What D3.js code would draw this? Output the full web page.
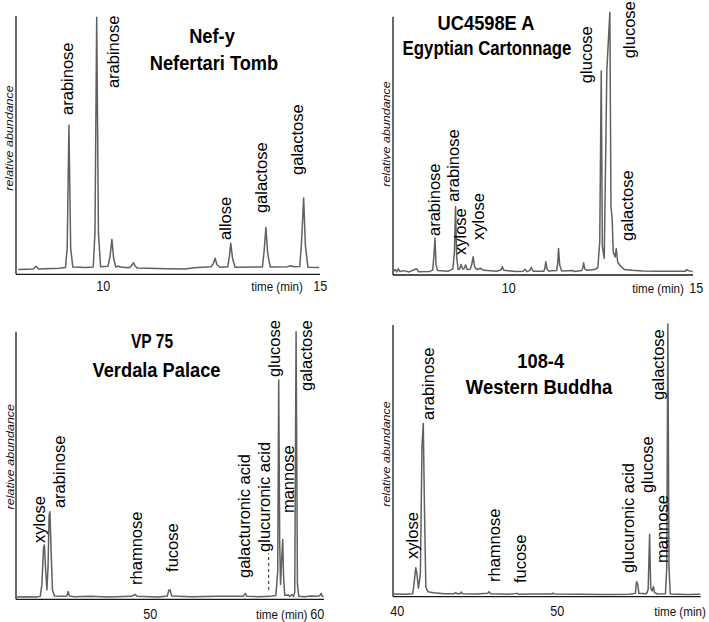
<!DOCTYPE html>
<html>
<head>
<meta charset="utf-8">
<script src="https://cdn.jsdelivr.net/npm/d3@7/dist/d3.min.js"></script>
<style>
  html, body { margin: 0; padding: 0; background: #fff; }
  svg { display: block; }
  text { font-family: Arial, "Liberation Sans", sans-serif; }
</style>
</head>
<body>
<svg id="chart" width="709" height="622"></svg>
<script>
// ---------------- DATA ----------------
// Chromatogram traces: [time (min), relative abundance (%)]
const nefTrace = [
  [8.05,-0.5],[8.4,-0.3],[8.46,0.8],[8.52,-0.3],[9.0,0],[9.14,0.3],[9.18,8],[9.22,57],[9.26,8],[9.31,0.5],
  [9.6,0.3],[9.78,0.5],[9.82,14],[9.86,100],[9.9,14],[9.95,0.6],[10.12,0.8],[10.17,5],[10.21,11.5],[10.25,4],
  [10.3,0.5],[10.36,0.9],[10.4,0.5],[10.6,0.2],[10.66,1.0],[10.71,2.2],[10.75,0.8],[10.8,0.1],[11.5,-0.2],
  [11.9,-0.3],[12.1,0.2],[12.5,0.6],[12.55,2],[12.59,4],[12.63,1.5],[12.7,0.4],[12.88,0.6],[12.92,5],[12.95,10],
  [12.99,4],[13.05,0.4],[13.68,0.5],[13.72,7],[13.76,16.3],[13.8,6],[13.86,0.5],[14.25,0.6],[14.34,1.0],
  [14.4,0.6],[14.54,0.7],[14.58,10],[14.63,28],[14.67,9],[14.73,0.4],[14.99,0.3]
];
const ucTrace = [
  [6.93,0.5],[6.98,1.2],[7.02,0.3],[7.06,1.5],[7.1,0.5],[7.2,0.8],[7.35,0.3],[7.55,1.5],[7.6,0.4],[7.9,0.5],
  [7.98,1.0],[8.01,6],[8.04,13.2],[8.07,3],[8.11,0.8],[8.4,0.6],[8.52,1.5],[8.56,8],[8.59,25.4],[8.62,6],
  [8.66,1.2],[8.7,1.5],[8.74,3.2],[8.78,1.4],[8.82,1.6],[8.86,3],[8.9,1.2],[8.98,1.3],[9.02,3],[9.06,6.1],
  [9.1,2.2],[9.16,1.2],[9.26,1.7],[9.34,0.9],[9.7,0.6],[9.8,1.0],[9.84,2.3],[9.88,0.9],[10.2,0.5],[10.4,0.6],
  [10.44,1.3],[10.5,0.4],[10.57,0.8],[10.61,2],[10.66,0.6],[10.95,0.6],[10.98,2],[11.0,4.2],[11.03,1.5],
  [11.07,0.7],[11.29,0.8],[11.32,4],[11.34,9.3],[11.37,3],[11.42,0.7],[11.73,0.8],[11.76,0.5],[11.96,0.8],
  [11.99,2],[12.01,3.8],[12.04,1.5],[12.1,0.9],[12.3,1.2],[12.39,2],[12.44,12],[12.48,77.5],[12.51,10],
  [12.56,5.5],[12.63,78],[12.71,100],[12.74,25],[12.77,21.3],[12.8,8],[12.85,6],[12.88,9.3],[12.92,4],
  [13.0,2.5],[13.1,1.2],[13.3,0.9],[13.6,0.7],[14.0,0.6],[14.6,0.6],[14.73,0.6],[14.77,1.2],[14.82,0.7],[14.92,0.5]
];
const vpTrace = [
  [42.05,0.3],[42.6,0.4],[43.2,0.3],[43.45,0.5],[43.55,5],[43.65,19],[43.7,19.8],[43.76,12],[43.85,2.9],
  [43.92,12],[43.98,31],[44.03,32.3],[44.09,20],[44.18,3],[44.3,0.6],[44.8,0.5],[45.04,0.6],[45.12,2.3],
  [45.2,0.6],[45.5,0.4],[46.5,0.5],[47.5,0.3],[48.9,0.5],[49.06,1.0],[49.14,1.2],[49.24,0.5],[50.5,0.3],
  [51.05,0.6],[51.15,2.9],[51.22,2.9],[51.32,0.6],[52.5,0.4],[54,0.5],[55.6,0.5],[55.72,1.6],[55.82,0.5],
  [56.5,0.4],[57.2,0.5],[57.55,0.8],[57.66,10],[57.72,81.8],[57.78,20],[57.83,5],[57.9,15],[57.96,21.9],
  [58.01,8],[58.08,0.9],[58.3,1.0],[58.38,0.5],[58.52,1.2],[58.6,0.5],[58.68,2],[58.76,100],[58.84,5],
  [58.92,0.5],[59.3,0.4],[59.6,0.6],[60.0,0.5],[60.18,0.8],[60.26,1.6],[60.32,0.6],[60.4,0.3]
];
const budTrace = [
  [39.82,0.4],[40.5,0.3],[41.0,0.5],[41.08,4],[41.19,10.1],[41.26,8],[41.36,2.5],[41.48,8],[41.58,55],
  [41.66,63.3],[41.74,30],[41.82,3],[41.95,1.2],[42.3,0.8],[43.0,0.5],[43.6,0.5],[43.68,0.9],[43.76,0.5],
  [43.97,0.5],[44.03,1.1],[44.1,0.5],[45.0,0.4],[45.68,0.6],[45.76,1.2],[45.86,0.5],[47.0,0.3],[47.52,0.6],
  [47.6,0.3],[48.5,0.4],[49.7,0.4],[49.76,0.7],[49.85,0.4],[51.5,0.3],[53,0.2],[54.5,0.3],[54.9,0.6],
  [54.97,4.9],[55.05,4],[55.12,0.6],[55.6,0.5],[55.7,2],[55.79,22.4],[55.86,2.5],[55.95,1.5],[56.03,3.1],
  [56.1,0.8],[56.3,0.4],[56.78,0.5],[56.86,10],[56.93,100],[57.0,10],[57.08,0.4],[57.5,0.3],[58.2,0.2],[58.95,0.3]
];

// Peak labels: text, time of label baseline, abundance where label starts
const nefLabels = [
  {text:"arabinose", t:9.31, v:61.1}, {text:"arabinose", t:10.38, v:71.8},
  {text:"allose", t:12.96, v:11.3}, {text:"galactose", t:13.78, v:22},
  {text:"galactose", t:14.62, v:37.2}
];
const ucLabels = [
  {text:"arabinose", t:8.17, v:14.1}, {text:"arabinose", t:8.68, v:27.2},
  {text:"xylose", t:8.87, v:6.8}, {text:"xylose", t:9.34, v:12.6},
  {text:"glucose", t:12.22, v:72.8}, {text:"glucose", t:13.38, v:82.4},
  {text:"galactose", t:13.32, v:12.2}
];
const vpLabels = [
  {text:"xylose", t:43.75, v:20.6}, {text:"arabinose", t:44.93, v:33.7},
  {text:"rhamnose", t:49.52, v:4.8}, {text:"fucose", t:51.71, v:9.7},
  {text:"galacturonic acid", t:56.02, v:7.4}, {text:"glucuronic acid", t:57.22, v:17.2},
  {text:"glucose", t:57.82, v:83}, {text:"mannose", t:58.64, v:31.8},
  {text:"galactose", t:59.71, v:77.7}
];
const budLabels = [
  {text:"xylose", t:41.31, v:13.3}, {text:"arabinose", t:42.33, v:64.6},
  {text:"rhamnose", t:46.45, v:4.8}, {text:"fucose", t:48.05, v:4.4},
  {text:"glucuronic acid", t:54.83, v:8.1}, {text:"glucose", t:55.98, v:37.6},
  {text:"mannose", t:56.94, v:11.8}, {text:"galactose", t:56.71, v:72}
];
// dashed marker for glucuronic acid (VP 75): time, from, to abundance
const vpMarker = [{t:57.12, v0:2.9, v1:16.8}];

const nefTitle = ["Nef-y", "Nefertari Tomb"];
const ucTitle = ["UC4598E A", "Egyptian Cartonnage"];
const vpTitle = ["VP 75", "Verdala Palace"];
const budTitle = ["108-4", "Western Buddha"];

const nefTicks = [10, 15];
const ucTicks = [10, 15];
const vpTicks = [50, 60];
const budTicks = [40, 50];

const nefDomain = [8, 15];
const ucDomain = [6.92, 14.93];
const vpDomain = [42, 60.43];
const budDomain = [39.77, 58.98];

// ---------------- LAYOUT ----------------
const panels = [
  { trace:nefTrace, labels:nefLabels, title:nefTitle, ticks:nefTicks, domain:nefDomain, markers:[],
    xr:[16,319.7], axisX1:320, axisY:274.3, base:268.3, top:17.3, yTop:16,
    titleX:[212,214], titleY:[43,70], titleScale:[0.87,0.87],
    yLabX:13.3, yLabY:138, timeX:277, tickBase:291 },
  { trace:ucTrace, labels:ucLabels, title:ucTitle, ticks:ucTicks, domain:ucDomain, markers:[],
    xr:[393,693], axisX1:693, axisY:275, base:272.7, top:12.3, yTop:16.7,
    titleX:[486,487], titleY:[30,55], titleScale:[0.87,0.8],
    yLabX:390, yLabY:134, timeX:658, tickBase:293 },
  { trace:vpTrace, labels:vpLabels, title:vpTitle, ticks:vpTicks, domain:vpDomain, markers:vpMarker,
    xr:[16,324], axisX1:324, axisY:599.3, base:597.7, top:331.7, yTop:331.7,
    titleX:[152,156.5], titleY:[348,377], titleScale:[0.74,0.87],
    yLabX:14, yLabY:456.7, timeX:281.7, tickBase:619 },
  { trace:budTrace, labels:budLabels, title:budTitle, ticks:budTicks, domain:budDomain, markers:[],
    xr:[393,700.7], axisX1:700.7, axisY:596.7, base:595, top:324, yTop:325,
    titleX:[540.7,539], titleY:[368,394], titleScale:[0.87,0.88],
    yLabX:390, yLabY:454, timeX:680, tickBase:616 }
];

const SX = 0.9; // horizontal glyph compression of the original figure
const svg = d3.select("#chart");

panels.forEach(p => {
  const x = d3.scaleLinear().domain(p.domain).range(p.xr);
  const y = d3.scaleLinear().domain([0, 100]).range([p.base, p.top]);
  const g = svg.append("g");

  // y axis line
  g.append("line")
    .attr("x1", p.xr[0]).attr("x2", p.xr[0])
    .attr("y1", p.axisY).attr("y2", p.yTop)
    .attr("stroke", "#1a1a1a").attr("stroke-width", 1.3);

  // x axis
  const ax = g.append("g")
    .attr("transform", `translate(0,${p.axisY})`)
    .call(d3.axisBottom(x).tickValues(p.ticks).tickSize(0).tickSizeOuter(0)
      .tickFormat(d3.format("d")).tickPadding(0));
  ax.select(".domain")
    .attr("d", `M${p.xr[0]},0H${p.axisX1}`)
    .attr("stroke", "#1a1a1a").attr("stroke-width", 1.3);
  ax.selectAll(".tick text")
    .attr("dy", null)
    .attr("y", p.tickBase - p.axisY)
    .attr("transform", `scale(${SX},1)`)
    .attr("font-size", 14)
    .attr("font-family", "Arial, 'Liberation Sans', sans-serif")
    .attr("fill", "#111");

  // "time (min)"
  g.append("text")
    .attr("transform", `translate(${p.timeX},${p.tickBase}) scale(0.86,1)`)
    .attr("text-anchor", "middle")
    .attr("font-size", 13.5).attr("fill", "#111")
    .text("time (min)");

  // relative abundance
  g.append("text")
    .attr("transform", `translate(${p.yLabX},${p.yLabY}) scale(${SX},1) rotate(-90)`)
    .attr("text-anchor", "middle")
    .attr("font-size", 12.5).attr("font-style", "italic").attr("fill", "#111")
    .text("relative abundance");

  // title
  p.title.forEach((t, i) => {
    g.append("text")
      .attr("transform", `translate(${p.titleX[i]},${p.titleY[i]}) scale(${p.titleScale[i]},1)`)
      .attr("text-anchor", "middle")
      .attr("font-size", 21).attr("font-weight", "bold").attr("fill", "#000")
      .text(t);
  });

  // trace
  g.append("path")
    .datum(p.trace)
    .attr("fill", "none")
    .attr("stroke", "#606060")
    .attr("stroke-width", 1.5)
    .attr("stroke-linejoin", "round")
    .attr("d", d3.line().x(d => x(d[0])).y(d => y(d[1])));

  // dashed markers
  g.selectAll("line.marker").data(p.markers).enter().append("line")
    .attr("class", "marker")
    .attr("x1", d => x(d.t)).attr("x2", d => x(d.t))
    .attr("y1", d => y(d.v0)).attr("y2", d => y(d.v1))
    .attr("stroke", "#222").attr("stroke-width", 1).attr("stroke-dasharray", "3,3");

  // peak labels
  g.selectAll("text.peak").data(p.labels).enter().append("text")
    .attr("class", "peak")
    .attr("transform", d => `translate(${x(d.t)},${y(d.v)}) rotate(-90)`)
    .attr("text-anchor", "start")
    .attr("font-size", 16.5).attr("fill", "#000")
    .text(d => d.text);
});
</script>
</body>
</html>
